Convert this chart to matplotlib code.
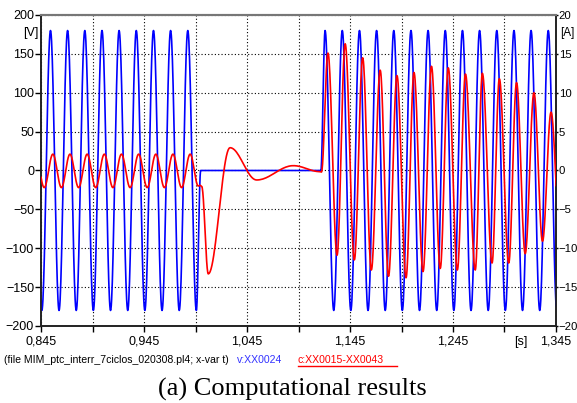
import numpy as np
import matplotlib
matplotlib.use("Agg")
from matplotlib import pyplot as plt
from matplotlib.ticker import FixedLocator, FuncFormatter
from matplotlib.lines import Line2D

# voltage v:XX0024 [V] - extremes (time [s], value)
v_times = [0.8375, 0.8458, 0.8542, 0.8625, 0.8708, 0.8792, 0.8875, 0.8958,
           0.9042, 0.9125, 0.9208, 0.9292, 0.9375, 0.9458, 0.9542, 0.9625,
           0.9708, 0.9792, 0.9875, 0.9958,
           1.0000, 1.1167,
           1.1208, 1.1292, 1.1375, 1.1458, 1.1542, 1.1625, 1.1708, 1.1792,
           1.1875, 1.1958, 1.2042, 1.2125, 1.2208, 1.2292, 1.2375, 1.2458,
           1.2542, 1.2625, 1.2708, 1.2792, 1.2875, 1.2958, 1.3042, 1.3125,
           1.3208, 1.3292, 1.3375, 1.3458]
v_values = [180, -180, 180, -180, 180, -180, 180, -180, 180, -180,
            180, -180, 180, -180, 180, -180, 180, -180, 180, -180,
            0, 0,
            180, -180, 180, -180, 180, -180, 180, -180, 180, -180,
            180, -180, 180, -180, 180, -180, 180, -180, 180, -180,
            180, -180, 180, -180, 180, -180, 180, -180]

# current c:XX0015-XX0043 [A]
c_times = [0.8398, 0.8481, 0.8565, 0.8648, 0.8731, 0.8815, 0.8898, 0.8981,
           0.9065, 0.9148, 0.9231, 0.9315, 0.9398, 0.9481, 0.9565, 0.9648,
           0.9731, 0.9815, 0.9898, 0.9977, 0.9994, 1.0010, 1.0074, 1.0285,
           1.0544, 1.0900, 1.1159, 1.1173,
           1.1236, 1.1324, 1.1403, 1.1492, 1.1573, 1.1657, 1.1743, 1.1824,
           1.1906, 1.1994, 1.2071, 1.2159, 1.2241, 1.2326, 1.2404, 1.2492,
           1.2571, 1.2666, 1.2735, 1.2829, 1.2900, 1.2991, 1.3067, 1.3151,
           1.3236, 1.3319, 1.3402, 1.3487]
c_values = [2.1, -2.2, 2.1, -2.2, 2.1, -2.2, 2.1, -2.2,
            2.1, -2.2, 2.1, -2.2, 2.1, -2.2, 2.1, -2.2,
            2.1, -2.2, 2.1, -2.0, -1.9, -2.05, -13.3, 2.93,
            -1.22, 0.62, -0.15, -0.2,
            15.1, -10.9, 16.3, -11.5, 14.5, -12.8, 12.9, -13.6,
            12.2, -13.8, 12.6, -13.0, 13.4, -12.6, 13.2, -12.8,
            12.4, -12.8, 12.5, -11.9, 11.8, -11.9, 11.3, -10.7,
            10.0, -9.1, 7.5, -7.5]

x_major = [0.845, 0.945, 1.045, 1.145, 1.245, 1.345]
x_minor = [0.895, 0.995, 1.095, 1.195, 1.295]
v_ticks = [-200, -150, -100, -50, 0, 50, 100, 150, 200]
c_ticks = [-20, -15, -10, -5, 0, 5, 10, 15, 20]


def smooth(tk, vk, n=24):
    # half-cosine between consecutive extremes
    ts, vs = [], []
    for i in range(len(tk) - 1):
        s = np.linspace(0, 1, n, endpoint=False)
        ts.append(tk[i] + (tk[i + 1] - tk[i]) * s)
        vs.append(vk[i] + (vk[i + 1] - vk[i]) * (1 - np.cos(np.pi * s)) / 2)
    ts.append([tk[-1]])
    vs.append([vk[-1]])
    return np.concatenate(ts), np.concatenate(vs)


plt.rcParams['font.family'] = ['Liberation Sans', 'DejaVu Sans']

fig = plt.figure(figsize=(5.77, 4.03), dpi=100)
ax = fig.add_axes([0.0711, 0.1911, 0.8925, 0.7717])
ax2 = ax.twinx()

t, v = smooth(v_times, v_values)
ax.plot(t, v, color='#0000ff', lw=1.2, zorder=3)
t, c = smooth(c_times, c_values)
ax2.plot(t, c, color='#ff0000', lw=1.2, zorder=3)

ax.set_xlim(0.845, 1.345)
ax.set_ylim(-200, 200)
ax2.set_ylim(-20, 20)

ax.xaxis.set_major_locator(FixedLocator(x_major))
ax.xaxis.set_minor_locator(FixedLocator(x_minor))
ax.xaxis.set_major_formatter(FuncFormatter(lambda x, p: f"{x:.3f}".replace('.', ',')))
ax.set_yticks(v_ticks)
ax2.set_yticks(c_ticks)

ax.grid(True, which='both', color='black', linestyle=(0, (1, 2)), lw=0.8)
ax.tick_params(axis='both', which='both', direction='out', length=4,
               labelsize=9, pad=1, width=1)
ax.tick_params(axis='x', pad=3)
ax2.tick_params(axis='y', direction='out', length=1.5, labelsize=8.2, pad=0.5, width=1)

for a in (ax, ax2):
    for s in ('left', 'bottom', 'right'):
        a.spines[s].set_color('#222222')
        a.spines[s].set_linewidth(1.2)
    a.spines['top'].set_color('#777777')
    a.spines['top'].set_linewidth(1.5)

fig.text(23 / 577, 1 - 33 / 403, '[V]', fontsize=9, va='center', ha='left')
fig.text(560 / 577, 1 - 33 / 403, '[A]', fontsize=8.5, va='center', ha='left')
fig.text(521 / 577, 1 - 342 / 403, '[s]', fontsize=9, va='center', ha='center')

fig.text(4 / 577, 1 - 360 / 403, '(file MIM_ptc_interr_7ciclos_020308.pl4; x-var t)',
         fontsize=7.6, va='center', ha='left')
fig.text(237 / 577, 1 - 360 / 403, 'v:XX0024', fontsize=7.6, va='center',
         ha='left', color='#3333ff')
fig.text(298 / 577, 1 - 360 / 403, 'c:XX0015-XX0043', fontsize=7.6, va='center',
         ha='left', color='#ff0000')
fig.add_artist(Line2D([298 / 577, 397 / 577], [1 - 366 / 403, 1 - 366 / 403],
                      color='#ff0000', lw=1))

fig.text(292 / 577, 1 - 389 / 403, '(a) Computational results', fontsize=19,
         family=['Liberation Serif', 'DejaVu Serif'], va='center', ha='center')

fig.savefig('out.png', dpi=100)
